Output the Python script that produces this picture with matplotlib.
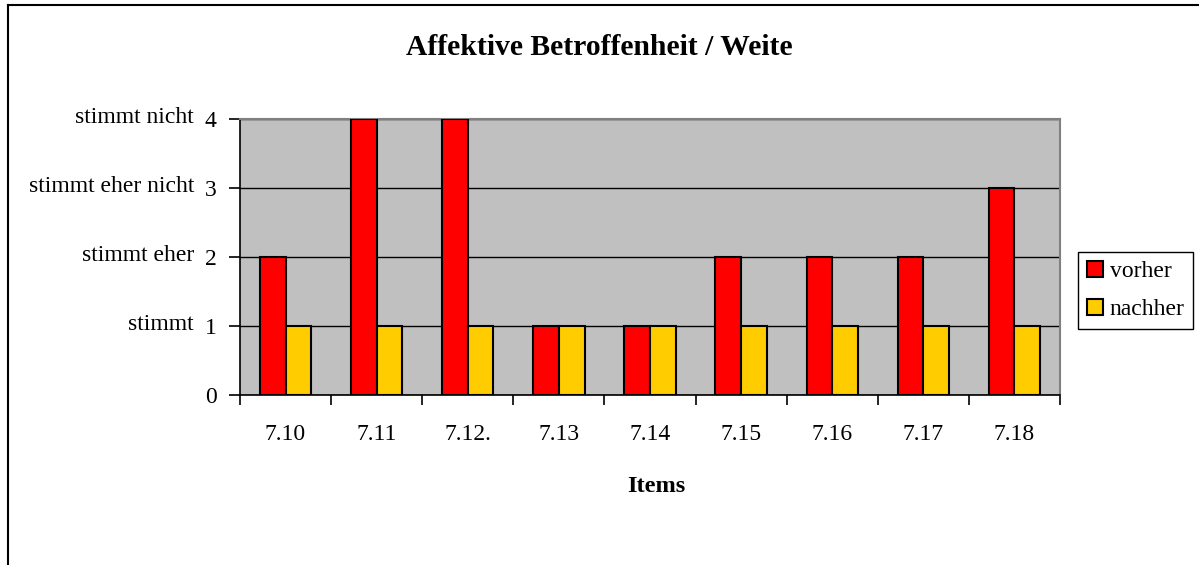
import matplotlib
matplotlib.use("Agg")
import matplotlib.pyplot as plt
from matplotlib.patches import Patch
from matplotlib.lines import Line2D
import matplotlib.transforms as mtransforms
import numpy as np

categories = ["7.10", "7.11", "7.12.", "7.13", "7.14", "7.15", "7.16", "7.17", "7.18"]
vorher = [2, 4, 4, 1, 1, 2, 2, 2, 3]
nachher = [1, 1, 1, 1, 1, 1, 1, 1, 1]
y_ticks = [0, 1, 2, 3, 4]
y_text_labels = {1: "stimmt", 2: "stimmt eher", 3: "stimmt eher nicht", 4: "stimmt nicht"}
series_names = ["vorher", "nachher"]
title = "Affektive Betroffenheit / Weite"
xlabel = "Items"

plt.rcParams['font.family'] = ['Liberation Serif', 'DejaVu Serif']
FS = 17
W, H = 1199, 565
fig = plt.figure(figsize=(W / 100, H / 100), dpi=100)
fig.patch.set_facecolor("white")

ax = fig.add_axes([240 / W, 1 - 395 / H, 820 / W, (395 - 119.3) / H])
ax.set_facecolor("#C0C0C0")

x = np.arange(len(categories))
bw = 0.282
ax.bar(x - bw / 2, vorher, width=bw, color="#FF0000", edgecolor="black", linewidth=1.5, zorder=3)
ax.bar(x + bw / 2, nachher, width=bw, color="#FFCC00", edgecolor="black", linewidth=1.5, zorder=3)

ax.set_xlim(-0.5, len(categories) - 0.5)
ax.set_ylim(0, 4)

# gridlines
ax.set_yticks(y_ticks)
ax.yaxis.grid(True, color="black", linewidth=1.0, zorder=1)
ax.set_axisbelow(True)
ax.tick_params(axis="y", direction="out", length=8, width=1.2, pad=9, labelsize=FS, colors="black")

# x: boundary ticks (major), labels at centers (minor)
ax.set_xticks(np.arange(-0.5, len(categories), 1.0))
ax.set_xticklabels([])
ax.set_xticks(x, minor=True)
ax.set_xticklabels(categories, minor=True, fontsize=FS)
ax.tick_params(axis="x", which="major", direction="out", length=7, width=1.2)
ax.tick_params(axis="x", which="minor", length=0, pad=21)

for side in ["top", "right"]:
    ax.spines[side].set_color("#808080")
    ax.spines[side].set_linewidth(1.5)
for side in ["left", "bottom"]:
    ax.spines[side].set_color("black")
    ax.spines[side].set_linewidth(1.2)

# descriptive y labels
trans = mtransforms.blended_transform_factory(fig.transFigure, ax.transData)
for v, lab in y_text_labels.items():
    ax.text(194 / W, v - 0.06, lab, transform=trans, ha="right", va="baseline", fontsize=FS)

fig.text(0.5, 1 - 55 / H, title, ha="center", va="baseline", fontsize=21.3, fontweight="bold")
fig.text(656 / W, 1 - 492 / H, xlabel, ha="center", va="baseline", fontsize=17.6, fontweight="bold")

handles = [Patch(facecolor="#FF0000", edgecolor="black", linewidth=1.5),
           Patch(facecolor="#FFCC00", edgecolor="black", linewidth=1.5)]
leg = fig.legend(handles, series_names, loc="upper left",
                 bbox_to_anchor=(1078 / W, 1 - 252 / H), bbox_transform=fig.transFigure,
                 borderaxespad=0, fontsize=FS, frameon=True, fancybox=False, shadow=False,
                 framealpha=1, edgecolor="black", handlelength=0.68, handleheight=0.68,
                 handletextpad=0.3, labelspacing=0.72, borderpad=0.36)
leg.get_frame().set_linewidth(1.0)

# figure border (chart area frame)
fig.add_artist(Line2D([8 / W, 8 / W], [0, 1 - 5 / H], transform=fig.transFigure, color="black", linewidth=1.5))
fig.add_artist(Line2D([8 / W, 1], [1 - 5 / H, 1 - 5 / H], transform=fig.transFigure, color="black", linewidth=1.5))

fig.savefig("out.png", dpi=100, facecolor="white")
